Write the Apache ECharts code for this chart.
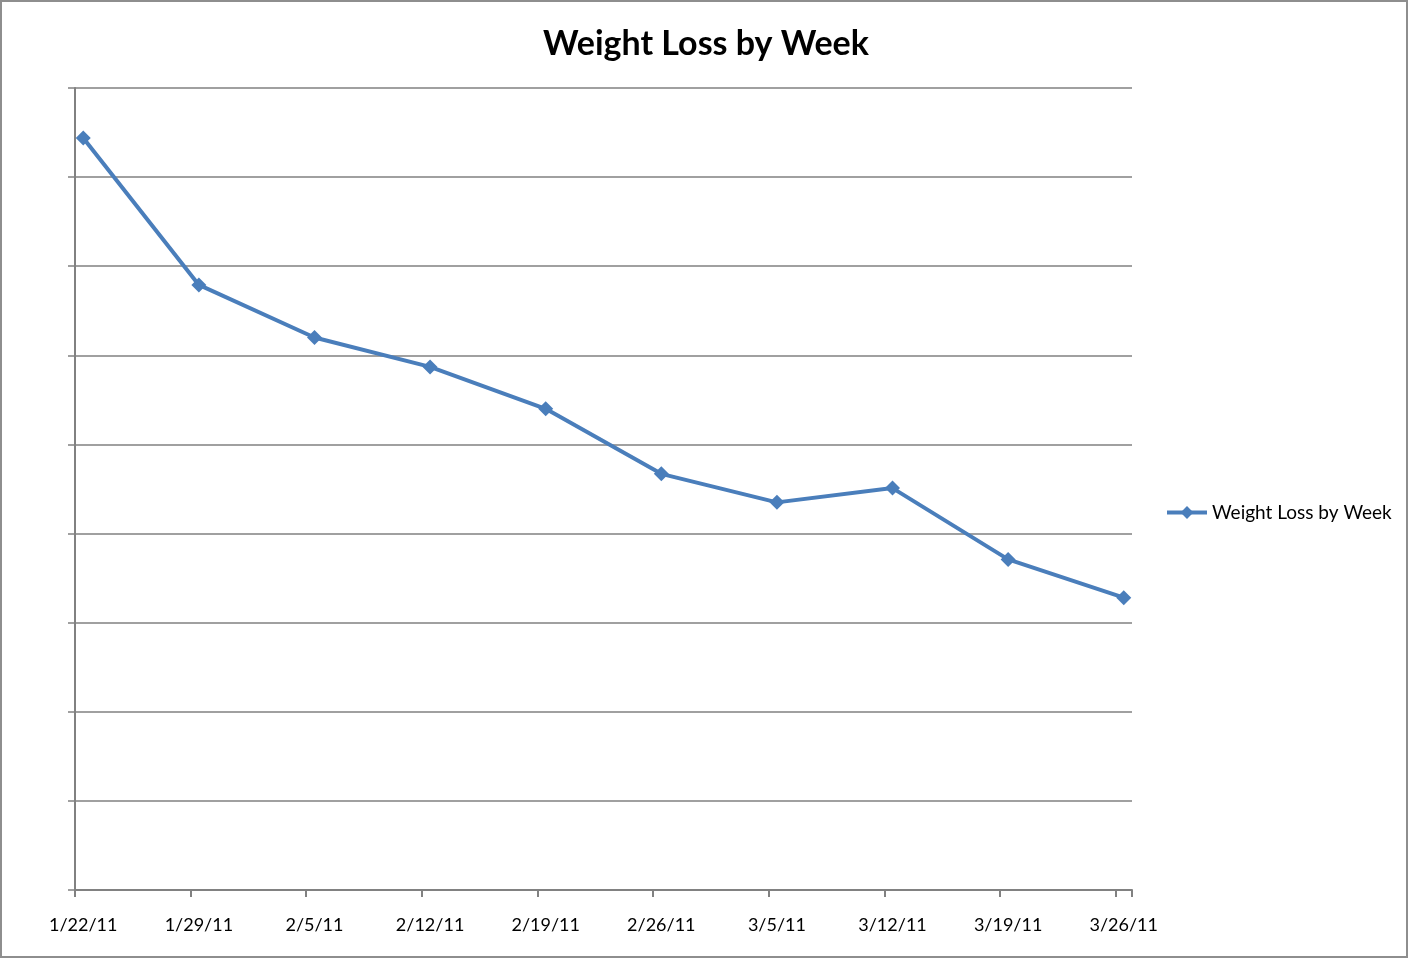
<!DOCTYPE html>
<html>
<head>
<meta charset="utf-8">
<title>Weight Loss by Week</title>
<script src="https://cdn.jsdelivr.net/npm/echarts@6/dist/echarts.min.js"></script>
<style>
  html, body { margin: 0; padding: 0; background: #fff; }
  #chart { width: 1412px; height: 960px; }
</style>
</head>
<body>
<div id="chart"></div>
<script>
// weekly weigh-ins (y axis has no labels, so units are gridline steps)
const weeks = ['1/22/11', '1/29/11', '2/5/11', '2/12/11', '2/19/11', '2/26/11', '3/5/11', '3/12/11', '3/19/11', '3/26/11'];
const weightValues = [8.44, 6.79, 6.20, 5.87, 5.40, 4.67, 4.35, 4.51, 3.71, 3.28];
const daysPerWeek = 7;

// excel date axis: one slot per day, points sit in the middle of their day
const dayLabels = [];
const dayValues = [];
const totalDays = (weeks.length - 1) * daysPerWeek + 1;
for (let d = 0; d < totalDays; d++) {
  if (d % daysPerWeek === 0) {
    dayLabels.push(weeks[d / daysPerWeek]);
    dayValues.push(weightValues[d / daysPerWeek]);
  } else {
    dayLabels.push('');
    dayValues.push(null);
  }
}

const axisGray = '#818181';
const lineBlue = '#4a7ebb';
const chart = echarts.init(document.getElementById('chart'));
chart.setOption({
  animation: false,
  backgroundColor: '#fff',
  textStyle: { fontFamily: 'Lato' },
  title: {
    text: 'Weight Loss by Week',
    left: 'center',
    top: 22,
    textStyle: { fontFamily: 'Lato', fontWeight: 'bold', fontSize: 34, color: '#000' }
  },
  legend: {
    left: 1165,
    top: 503,
    padding: 0,
    itemWidth: 40,
    itemHeight: 16,
    itemGap: 4,
    textStyle: { fontSize: 19, color: '#000' },
    data: [{
      name: 'Weight Loss by Week',
      itemStyle: { color: lineBlue },
      lineStyle: { color: lineBlue, width: 4 }
    }]
  },
  graphic: [{
    type: 'rect',
    shape: { x: 1, y: 1, width: 1406, height: 956 },
    style: { fill: 'none', stroke: '#8e8e8e', lineWidth: 2 },
    silent: true
  }],
  grid: { left: 75, top: 88, width: 1057, height: 802, containLabel: false },
  xAxis: {
    type: 'category',
    data: dayLabels,
    boundaryGap: true,
    axisLine: { lineStyle: { color: axisGray, width: 2 } },
    axisTick: { show: true, interval: daysPerWeek - 1, length: 7, lineStyle: { color: axisGray, width: 2 } },
    axisLabel: { interval: daysPerWeek - 1, color: '#000', fontSize: 18, margin: 26 },
    splitLine: { show: false }
  },
  yAxis: {
    type: 'value',
    min: 0,
    max: 9,
    interval: 1,
    axisLine: { show: true, lineStyle: { color: axisGray, width: 2 } },
    axisTick: { show: true, length: 7, lineStyle: { color: axisGray, width: 1.5 } },
    axisLabel: { show: false },
    splitLine: { lineStyle: { color: axisGray, width: 1.5 } }
  },
  series: [{
    name: 'Weight Loss by Week',
    type: 'line',
    data: dayValues,
    connectNulls: true,
    symbol: 'diamond',
    symbolSize: 15,
    lineStyle: { color: lineBlue, width: 4 },
    itemStyle: { color: lineBlue }
  }]
});
</script>
</body>
</html>
